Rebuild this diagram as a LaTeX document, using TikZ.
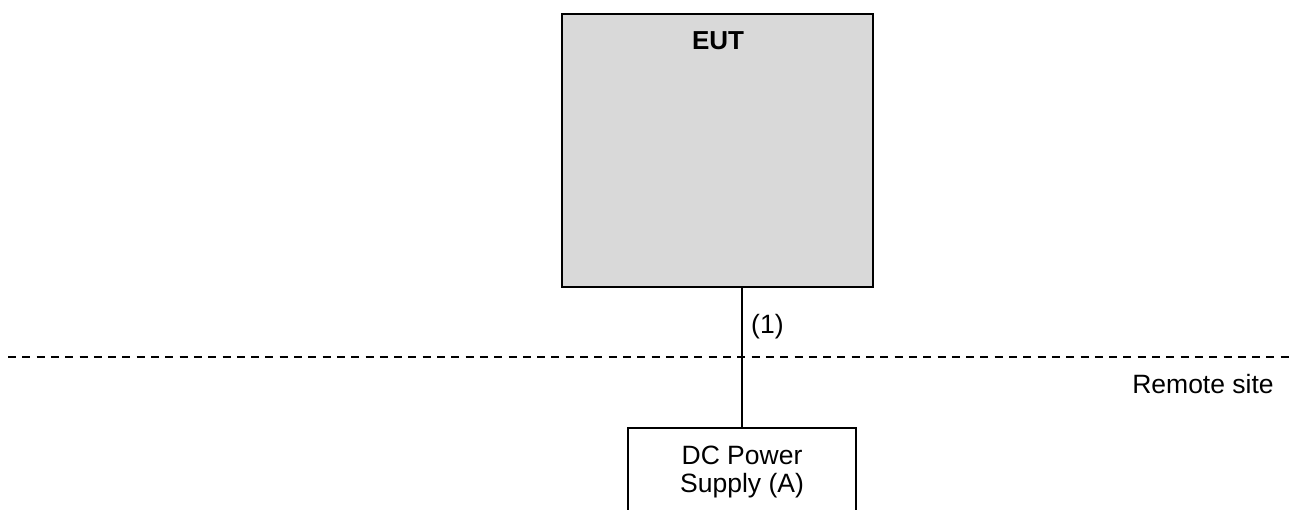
\documentclass[tikz,border=0pt]{standalone}
\usepackage{fontspec}
\setmainfont{Liberation Sans}
\definecolor{eutgray}{RGB}{217,217,217}
\begin{document}
\begin{tikzpicture}[x=1pt,y=1pt,
  boxline/.style={draw=black, line width=1.8pt},
  lbl/.style={font=\fontsize{26.5}{28}\selectfont, inner sep=0pt},
  conn/.style={draw=black, line width=1.8pt},
  sepline/.style={draw=black, line width=1.8pt, dash pattern=on 8pt off 6.3pt}]
\useasboundingbox (0,0) rectangle (1293,509);
% EUT box
\node[boxline, fill=eutgray, minimum width=311pt, minimum height=273pt, inner sep=0pt] (eut) at (717.5,358.5) {};
\node[lbl, font=\fontsize{26}{28}\selectfont\bfseries, anchor=base] (euttext) at (718,459) {EUT};
% DC power supply box (continues below the page edge)
\node[boxline, minimum width=228pt, minimum height=88.6pt, inner sep=0pt, align=center, font=\fontsize{26.5}{28}\selectfont] (dc) at (742,36.7) {DC Power\\Supply (A)};
% connector
\draw[conn] (dc.north |- eut.south) -- (dc.north);
\node[lbl, anchor=base west] (one) at (751,175) {(1)};
% separator
\coordinate (sepL) at (8,152);
\coordinate (sepR) at (1293,152);
\draw[sepline] (sepL) -- (sepR);
\node[lbl, anchor=base] (remote) at (1203,116) {Remote site};
\end{tikzpicture}
\end{document}
